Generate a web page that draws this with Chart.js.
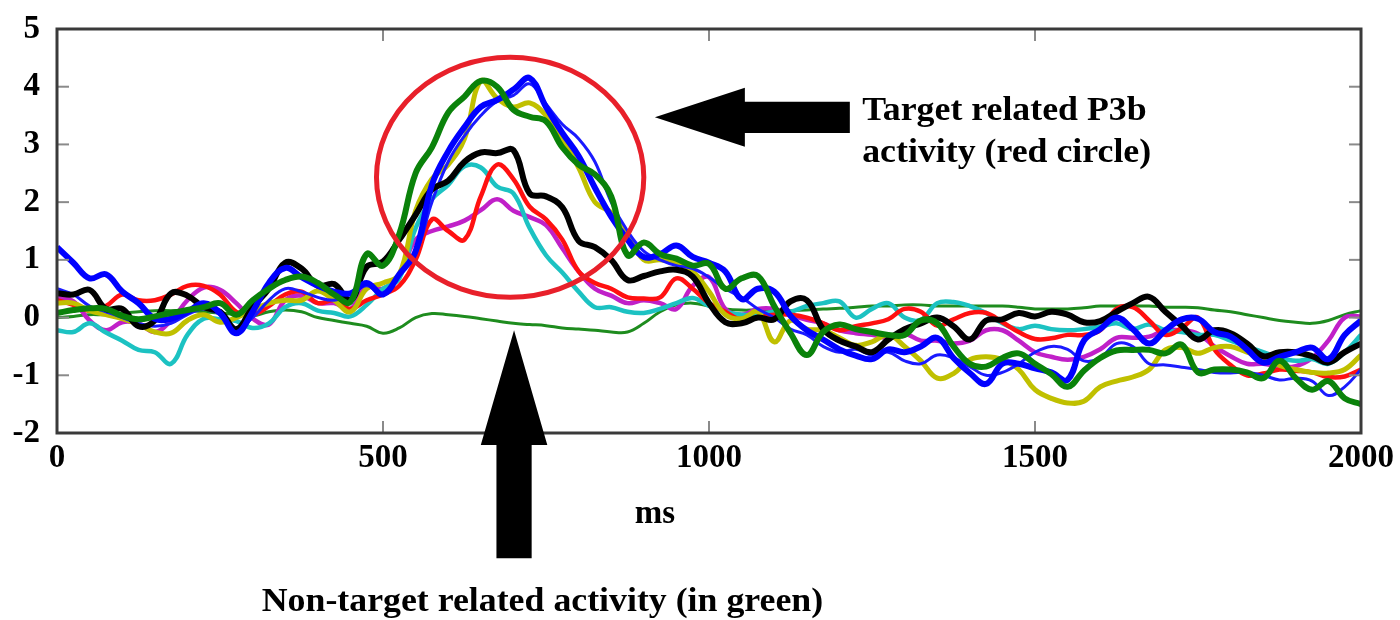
<!DOCTYPE html>
<html><head><meta charset="utf-8">
<script src="https://cdn.jsdelivr.net/npm/chart.js@4.4.1/dist/chart.umd.min.js"></script>
<style>html,body{margin:0;padding:0;background:#fff;}canvas{display:block;}</style>
</head><body>
<canvas id="c" width="1400" height="620"></canvas>
<script>
// ---- data (ms grid, 25 ms steps) ----
const timesMs = [0,25,50,75,100,125,150,175,200,225,250,275,300,325,350,375,400,425,450,475,
500,525,550,575,600,625,650,675,700,725,750,775,800,825,850,875,900,925,950,975,
1000,1025,1050,1075,1100,1125,1150,1175,1200,1225,1250,1275,1300,1325,1350,1375,1400,1425,1450,1475,
1500,1525,1550,1575,1600,1625,1650,1675,1700,1725,1750,1775,1800,1825,1850,1875,1900,1925,1950,1975,2000];

const blueThick = [1.22,0.95,0.68,0.75,0.45,0.25,-0.02,-0.02,0.10,0.25,
0.08,-0.27,0.10,0.60,0.86,0.70,0.55,0.45,0.42,0.60,
0.40,0.75,1.15,2.30,2.88,3.30,3.65,3.77,3.95,4.15,
3.65,3.20,2.80,2.25,1.75,1.35,1.05,1.10,1.25,1.05,
0.95,0.80,0.32,0.50,0.45,0.03,-0.22,-0.38,-0.55,-0.66,
-0.72,-0.55,-0.60,-0.50,-0.35,-0.70,-0.96,-1.15,-0.80,-0.80,
-0.88,-0.95,-1.08,-0.40,-0.20,0.00,-0.20,-0.45,-0.22,-0.03,
-0.02,-0.25,-0.33,-0.55,-0.78,-0.68,-0.60,-0.52,-0.72,-0.30,
-0.05];

const blueThin = [0.50,0.40,0.20,0.10,0.00,-0.10,-0.15,-0.10,0.05,0.15,
0.05,-0.20,0.00,0.30,0.50,0.45,0.35,0.30,0.40,0.55,
0.40,0.75,1.10,2.00,2.70,3.15,3.50,3.75,3.85,4.05,
3.70,3.35,3.10,2.70,2.00,1.50,1.15,1.00,0.90,0.85,
0.70,0.50,0.35,0.15,0.00,-0.20,-0.30,-0.50,-0.60,-0.55,
-0.65,-0.60,-0.75,-0.80,-0.65,-0.70,-0.85,-1.00,-0.95,-0.80,
-0.60,-0.50,-0.55,-0.75,-0.70,-0.45,-0.50,-0.80,-0.82,-0.86,
-0.90,-0.95,-0.96,-0.95,-1.00,-1.08,-1.05,-1.10,-1.35,-1.20,
-0.90];

const greenThick = [0.08,0.13,0.16,0.15,0.03,-0.03,0.02,0.08,0.13,0.18,
0.25,0.05,0.30,0.50,0.65,0.71,0.60,0.40,0.27,1.10,
0.90,1.45,2.50,2.95,3.55,3.83,4.10,4.00,3.60,3.48,
3.40,2.95,2.65,2.48,2.10,1.08,1.30,1.10,1.02,0.90,
0.93,0.50,0.68,0.72,0.20,-0.27,-0.65,-0.25,-0.12,-0.20,
-0.25,-0.30,-0.30,-0.05,-0.10,-0.50,-0.80,-0.85,-0.70,-0.62,
-0.80,-0.98,-1.20,-0.92,-0.70,-0.57,-0.56,-0.56,-0.62,-0.47,
-0.95,-0.90,-0.90,-0.95,-1.05,-0.75,-1.05,-1.25,-1.10,-1.40,
-1.50];

const greenNonTarget = [0.00,0.02,0.05,0.05,0.08,0.10,0.12,0.12,0.12,0.10,
0.08,0.05,0.03,0.10,0.13,0.10,0.00,-0.05,-0.10,-0.15,
-0.27,-0.18,0.00,0.07,0.05,0.02,-0.02,-0.06,-0.10,-0.12,
-0.14,-0.18,-0.20,-0.22,-0.25,-0.25,-0.10,0.10,0.22,0.25,
0.20,0.15,0.13,0.13,0.12,0.12,0.13,0.15,0.16,0.18,
0.20,0.20,0.22,0.22,0.20,0.20,0.20,0.20,0.20,0.18,
0.15,0.15,0.15,0.17,0.20,0.20,0.20,0.20,0.18,0.18,
0.17,0.13,0.10,0.05,0.00,-0.05,-0.08,-0.10,-0.05,0.05,
0.12];

const blackTrace = [0.42,0.40,0.48,0.15,0.15,-0.15,-0.05,0.42,0.38,0.18,
0.10,-0.20,0.18,0.50,0.95,0.85,0.55,0.58,0.30,0.88,
0.97,1.35,1.78,2.22,2.37,2.70,2.86,2.85,2.90,2.15,
2.10,1.91,1.33,1.22,1.00,0.65,0.72,0.80,0.83,0.71,
0.25,-0.08,-0.10,0.00,-0.03,0.28,0.30,-0.20,-0.40,-0.50,
-0.60,-0.38,-0.20,-0.10,0.00,-0.15,-0.38,-0.05,-0.03,0.08,
0.02,0.10,0.05,-0.08,-0.06,0.10,0.25,0.36,0.10,-0.14,
-0.38,-0.22,-0.27,-0.45,-0.67,-0.60,-0.60,-0.67,-0.78,-0.60,
-0.45];

const redTrace = [0.30,0.22,0.12,0.20,0.40,0.30,0.30,0.40,0.55,0.55,
0.40,0.10,0.05,0.20,0.40,0.45,0.25,0.30,0.15,0.30,
0.40,0.55,1.00,1.70,1.50,1.35,2.10,2.65,2.40,1.92,
1.70,1.35,0.80,0.60,0.50,0.35,0.33,0.35,0.68,0.50,
0.25,0.10,-0.04,0.00,0.05,0.05,0.00,-0.10,-0.22,-0.15,
-0.10,-0.03,0.15,0.10,-0.14,-0.03,0.08,0.08,-0.08,-0.25,
-0.37,-0.36,-0.30,-0.30,-0.22,0.15,0.18,-0.05,-0.30,-0.18,
0.00,-0.55,-0.82,-1.00,-0.97,-0.90,-0.92,-0.95,-1.03,-1.02,
-0.90];

const cyanTrace = [-0.22,-0.25,-0.10,-0.26,-0.40,-0.56,-0.60,-0.80,-0.30,-0.02,
-0.03,-0.06,-0.18,-0.10,0.18,0.25,0.12,0.08,0.02,0.22,
0.50,0.68,1.55,2.05,2.30,2.62,2.60,2.27,2.15,1.55,
1.08,0.78,0.45,0.18,0.18,0.10,0.08,0.15,0.25,0.34,
0.20,0.10,0.05,0.05,0.10,0.10,0.20,0.25,0.28,0.00,
0.15,0.25,0.00,-0.04,0.25,0.27,0.20,0.08,-0.10,-0.20,
-0.14,-0.20,-0.22,-0.20,-0.16,-0.10,-0.20,-0.12,-0.22,-0.25,
-0.30,-0.30,-0.40,-0.50,-0.60,-0.70,-0.75,-0.72,-0.80,-0.60,
-0.30];

const magentaTrace = [0.36,0.28,-0.05,-0.22,-0.08,-0.10,-0.25,-0.05,0.30,0.52,
0.48,0.25,-0.02,-0.12,0.30,0.38,0.25,0.25,0.15,0.55,
0.50,0.75,1.35,1.50,1.58,1.68,1.86,2.05,1.85,1.74,
1.60,1.20,0.80,0.50,0.38,0.25,0.30,0.25,0.15,0.55,
0.70,0.15,0.05,0.15,0.15,0.05,-0.04,-0.10,-0.22,-0.27,
-0.30,-0.35,-0.28,-0.40,-0.40,-0.45,-0.40,-0.22,-0.22,-0.40,
-0.60,-0.68,-0.73,-0.68,-0.55,-0.35,-0.35,-0.33,-0.22,-0.22,
-0.28,-0.50,-0.67,-0.80,-0.80,-0.85,-0.84,-0.70,-0.40,0.00,
0.02];

const yellowTrace = [0.25,0.25,0.12,0.05,-0.02,-0.12,-0.25,-0.27,-0.05,0.05,
-0.08,0.00,0.13,0.25,0.30,0.30,0.46,0.30,0.10,0.50,
0.60,0.75,1.85,2.40,2.65,3.10,4.10,3.80,3.65,3.72,
3.50,3.10,2.60,2.00,1.82,1.45,1.00,1.00,0.95,0.80,
0.45,0.05,-0.02,0.10,-0.42,-0.05,-0.20,-0.22,-0.35,-0.48,
-0.42,-0.30,-0.50,-0.75,-1.05,-0.97,-0.73,-0.68,-0.73,-0.90,
-1.25,-1.40,-1.48,-1.45,-1.20,-1.10,-1.03,-0.90,-0.56,-0.52,
-0.62,-0.52,-0.50,-0.60,-0.68,-0.83,-0.90,-0.95,-0.96,-0.90,
-0.65];

const xTickLabels = ['0','500','1000','1500','2000'];
const yTickLabels = ['-2','-1','0','1','2','3','4','5'];

// ---- annotation layout (data units) ----
const FONT = '"Liberation Serif", "Times New Roman", serif';
const annot = {
  ellipse: {cx: 695, cy: 2.43, rx: 205, ry: 2.08},
  upArrow: {x: 701, tip: -0.22, headBase: -2.21, headHalf: 51, shaftHalf: 27, end: -4.17},
  leftArrow: {y: 3.47, tip: 917, headBase: 1055, headHalf: 0.51, shaftHalf: 0.27, end: 1216},
  texts: [
    {t: 'Target related P3b', x: 1235, y: 3.42, size: 33, sx: 1.085},
    {t: 'activity (red circle)', x: 1235, y: 2.69, size: 33, sx: 1.085},
    {t: 'ms', x: 886, y: -3.56, size: 33, sx: 1.0},
    {t: 'Non-target related activity (in green)', x: 314, y: -5.09, size: 33, sx: 1.085}
  ]
};

const mk = (label, vals, color, w) => ({
  label, data: timesMs.map((t, i) => ({x: t, y: vals[i]})),
  borderColor: color, borderWidth: w, pointRadius: 0, tension: 0.4, fill: false
});

const framePlugin = {
  id: 'frame',
  afterDatasetsDraw(chart) {
    const {ctx, chartArea: a, scales: {x, y}} = chart;
    ctx.save();
    const ln = (x1, y1, x2, y2) => { ctx.beginPath(); ctx.moveTo(x1, y1); ctx.lineTo(x2, y2); ctx.stroke(); };
    ctx.strokeStyle = '#8a8a8a'; ctx.lineWidth = 2;
    x.ticks.forEach(t => {
      if (t.value === x.min || t.value === x.max) return;
      const p = x.getPixelForValue(t.value);
      ln(p, a.bottom, p, a.bottom - 12); ln(p, a.top, p, a.top + 12);
    });
    y.ticks.forEach(t => {
      if (t.value === y.min || t.value === y.max) return;
      const p = y.getPixelForValue(t.value);
      ln(a.left, p, a.left + 12, p); ln(a.right, p, a.right - 12, p);
    });
    ctx.strokeStyle = '#3a3a3a'; ctx.lineWidth = 3;
    ctx.strokeRect(a.left, a.top, a.right - a.left, a.bottom - a.top);

    // red ellipse
    const e = annot.ellipse;
    const cx = x.getPixelForValue(e.cx), cy = y.getPixelForValue(e.cy);
    const rx = x.getPixelForValue(e.cx + e.rx) - cx, ry = cy - y.getPixelForValue(e.cy + e.ry);
    ctx.strokeStyle = '#e8202a'; ctx.lineWidth = 5;
    ctx.beginPath(); ctx.ellipse(cx, cy, rx, ry, 0, 0, Math.PI * 2); ctx.stroke();

    // up arrow
    ctx.fillStyle = '#000';
    const u = annot.upArrow;
    const ux = x.getPixelForValue(u.x);
    const hh = x.getPixelForValue(u.x + u.headHalf) - ux, sh = x.getPixelForValue(u.x + u.shaftHalf) - ux;
    const uTip = y.getPixelForValue(u.tip), uBase = y.getPixelForValue(u.headBase), uEnd = y.getPixelForValue(u.end);
    ctx.beginPath();
    ctx.moveTo(ux, uTip); ctx.lineTo(ux + hh, uBase); ctx.lineTo(ux + sh, uBase); ctx.lineTo(ux + sh, uEnd);
    ctx.lineTo(ux - sh, uEnd); ctx.lineTo(ux - sh, uBase); ctx.lineTo(ux - hh, uBase); ctx.closePath(); ctx.fill();

    // left arrow
    const l = annot.leftArrow;
    const ly = y.getPixelForValue(l.y);
    const lh = ly - y.getPixelForValue(l.y + l.headHalf), ls = ly - y.getPixelForValue(l.y + l.shaftHalf);
    const lTip = x.getPixelForValue(l.tip), lBase = x.getPixelForValue(l.headBase), lEnd = x.getPixelForValue(l.end);
    ctx.beginPath();
    ctx.moveTo(lTip, ly); ctx.lineTo(lBase, ly - lh); ctx.lineTo(lBase, ly - ls); ctx.lineTo(lEnd, ly - ls);
    ctx.lineTo(lEnd, ly + ls); ctx.lineTo(lBase, ly + ls); ctx.lineTo(lBase, ly + lh); ctx.closePath(); ctx.fill();

    // texts
    ctx.textBaseline = 'alphabetic'; ctx.textAlign = 'left';
    annot.texts.forEach(tx => {
      ctx.save();
      ctx.font = 'bold ' + tx.size + 'px ' + FONT;
      ctx.translate(x.getPixelForValue(tx.x), y.getPixelForValue(tx.y));
      ctx.scale(tx.sx, 1);
      ctx.fillText(tx.t, 0, 0);
      ctx.restore();
    });
    ctx.restore();
  }
};

new Chart(document.getElementById('c'), {
  type: 'line',
  data: {
    datasets: [
      mk('green', greenThick, '#0a820a', 6),
      mk('blue', blueThick, '#0000ff', 6),
      mk('black', blackTrace, '#000000', 6),
      mk('blue2', blueThin, '#1a1aff', 3),
      mk('yellow', yellowTrace, '#c0c000', 5),
      mk('red', redTrace, '#ff1010', 4.5),
      mk('cyan', cyanTrace, '#1cc2c2', 4.5),
      mk('magenta', magentaTrace, '#c020c8', 4.5),
      mk('nontarget', greenNonTarget, '#1e8c1e', 3)
    ]
  },
  options: {
    responsive: false, animation: false, events: [], devicePixelRatio: 1,
    layout: {padding: {left: 0, top: 29, right: 39, bottom: 0}},
    plugins: {legend: {display: false}, tooltip: {enabled: false}},
    scales: {
      x: {
        type: 'linear', min: 0, max: 2000,
        grid: {display: false, drawTicks: false}, border: {display: false},
        ticks: {stepSize: 500, padding: 6, color: '#000', maxRotation: 0,
          font: {family: FONT, weight: 'bold', size: 33},
          callback: (v) => xTickLabels[[0,500,1000,1500,2000].indexOf(v)] ?? ''},
        afterFit: (s) => { s.height = 187; s.paddingLeft = 0; s.paddingRight = 0; }
      },
      y: {
        min: -2, max: 5,
        grid: {display: false, drawTicks: false}, border: {display: false},
        ticks: {stepSize: 1, padding: 17, color: '#000',
          font: {family: FONT, weight: 'bold', size: 33},
          callback: (v) => yTickLabels[v + 2] ?? ''},
        afterFit: (s) => { s.width = 57; s.paddingTop = 0; s.paddingBottom = 0; }
      }
    }
  },
  plugins: [framePlugin]
});
</script>
</body></html>
